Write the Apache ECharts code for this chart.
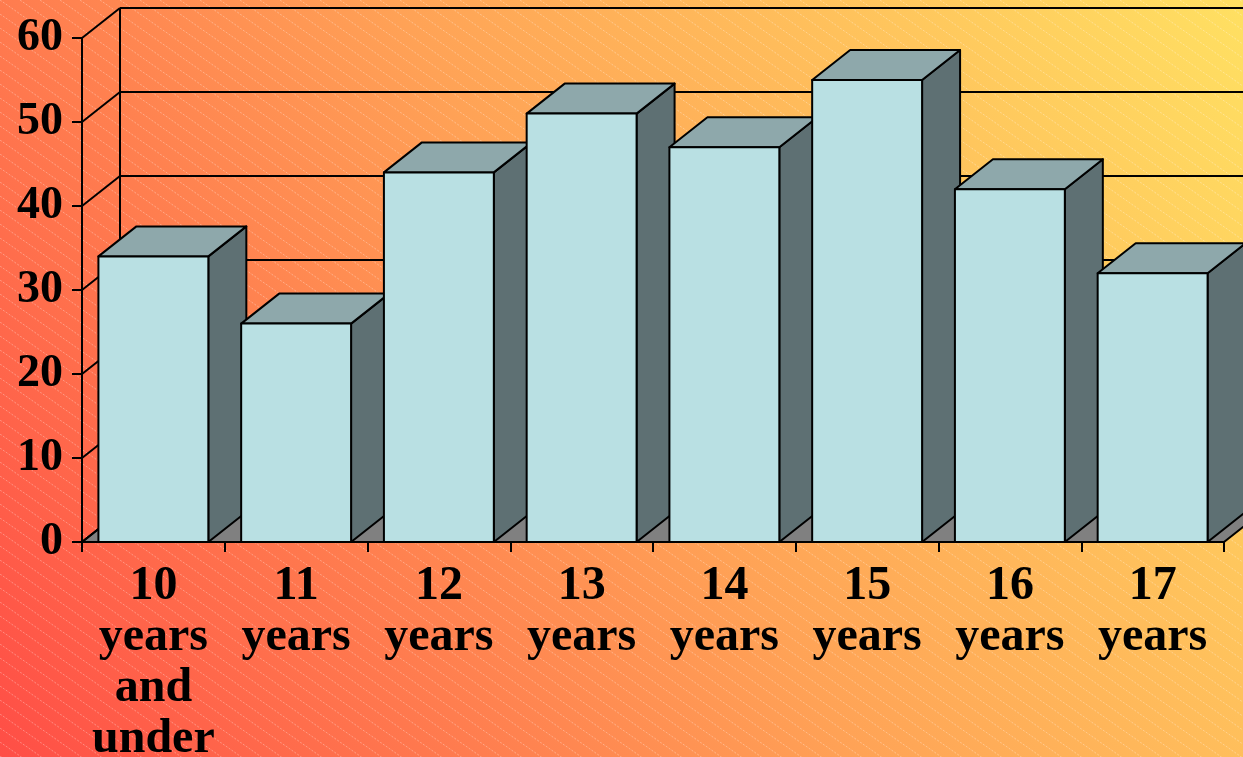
<!DOCTYPE html>
<html>
<head>
<meta charset="utf-8">
<script src="https://cdn.jsdelivr.net/npm/echarts@6/dist/echarts.min.js"></script>
<style>html,body{margin:0;padding:0;}#c{width:1243px;height:757px;}</style>
</head>
<body>
<div id="c"></div>
<script>
const categories = ['10\nyears\nand\nunder', '11\nyears', '12\nyears', '13\nyears', '14\nyears', '15\nyears', '16\nyears', '17\nyears'];
const values = [34, 26, 44, 51, 47, 55, 42, 32];
const yTicks = [0, 10, 20, 30, 40, 50, 60];

const DX = 38, DY = -30;
const FONT = '"Liberation Serif", "Times New Roman", serif';

// hatch pattern
const pc = document.createElement('canvas');
pc.width = 20; pc.height = 14;
const pctx = pc.getContext('2d');
pctx.strokeStyle = 'rgba(255,255,255,0.33)';
pctx.lineWidth = 1;
pctx.setLineDash([2, 1.5]);
pctx.beginPath();
pctx.moveTo(-20, -14); pctx.lineTo(40, 28);
pctx.stroke();

const chart = echarts.init(document.getElementById('c'));
const lineStyle = { stroke: '#000', lineWidth: 2 };

function renderWalls(params, api) {
  const cs = params.coordSys;
  const left = cs.x, right = cs.x + cs.width;
  const y0 = api.coord([0, yTicks[0]])[1];
  const yTop = api.coord([0, yTicks[yTicks.length - 1]])[1];
  const ch = [];
  ch.push({ type: 'polygon', shape: { points: [[left, y0], [right, y0], [right + DX, y0 + DY], [left + DX, y0 + DY]] },
    style: { fill: '#808080', stroke: '#000', lineWidth: 2 } });
  yTicks.forEach(v => {
    const y = api.coord([0, v])[1];
    ch.push({ type: 'line', shape: { x1: left + DX, y1: y + DY, x2: right + DX + 40, y2: y + DY }, style: lineStyle });
    ch.push({ type: 'line', shape: { x1: left, y1: y, x2: left + DX, y2: y + DY }, style: lineStyle });
  });
  ch.push({ type: 'line', shape: { x1: left + DX, y1: y0 + DY, x2: left + DX, y2: yTop + DY }, style: lineStyle });
  return { type: 'group', children: ch };
}

function renderBar(params, api) {
  const i = api.value(0);
  const v = api.value(1);
  const top = api.coord([i, v]);
  const base = api.coord([i, 0]);
  const w = api.size([1, 0])[0] * 0.77;
  const xl = top[0] - w / 2, xr = top[0] + w / 2;
  const yt = top[1], yb = base[1];
  const st = { stroke: '#000', lineWidth: 2, lineJoin: 'round' };
  return {
    type: 'group',
    children: [
      { type: 'polygon', shape: { points: [[xr, yt], [xr + DX, yt + DY], [xr + DX, yb + DY], [xr, yb]] },
        style: Object.assign({ fill: '#5E7073' }, st) },
      { type: 'polygon', shape: { points: [[xl, yt], [xl + DX, yt + DY], [xr + DX, yt + DY], [xr, yt]] },
        style: Object.assign({ fill: '#8EA8AB' }, st) },
      { type: 'rect', shape: { x: xl, y: yt, width: w, height: yb - yt },
        style: Object.assign({ fill: '#B9E0E3' }, st) }
    ]
  };
}

chart.setOption({
  animation: false,
  backgroundColor: new echarts.graphic.LinearGradient(0, 1, 1, 0, [
    { offset: 0, color: '#FF4E46' },
    { offset: 0.5, color: '#FFA256' },
    { offset: 1, color: '#FFE062' }
  ]),
  graphic: [{
    type: 'rect', silent: true, z: -10,
    shape: { x: 0, y: 0, width: 1243, height: 757 },
    style: { fill: { image: pc, repeat: 'repeat' } }
  }],
  grid: { left: 82, right: 19, top: 38, bottom: 215, containLabel: false, outerBoundsMode: 'none' },
  xAxis: {
    type: 'category', data: categories, boundaryGap: true, z: 10,
    axisLine: { show: true, lineStyle: { color: '#000', width: 2 } },
    axisTick: { show: true, inside: false, length: 10, alignWithLabel: false, lineStyle: { color: '#000', width: 2 } },
    axisLabel: { interval: 0, margin: 19, color: '#000', fontFamily: FONT, fontWeight: 'bold', fontSize: 48, lineHeight: 51, align: 'center' },
    splitLine: { show: false }
  },
  yAxis: {
    type: 'value', min: 0, max: 60, interval: 10, z: 10,
    axisLine: { show: true, lineStyle: { color: '#000', width: 2 } },
    axisTick: { show: true, inside: false, length: 10, lineStyle: { color: '#000', width: 2 } },
    axisLabel: { margin: 19, color: '#000', fontFamily: FONT, fontWeight: 'bold', fontSize: 46 },
    splitLine: { show: false }
  },
  series: [
    { type: 'custom', z: 1, silent: true, renderItem: renderWalls, data: [[0, 0]], clip: false },
    { type: 'custom', z: 3, renderItem: renderBar, data: values.map((v, i) => [i, v]), clip: false }
  ]
});
</script>
</body>
</html>
